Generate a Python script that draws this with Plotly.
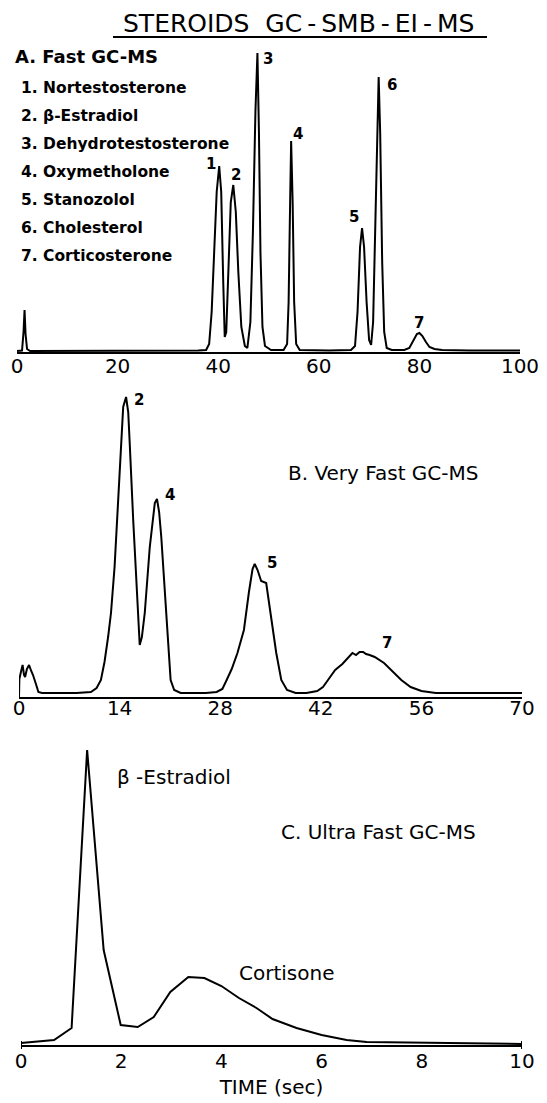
import plotly.graph_objects as go

# ---------------- Panel A : Fast GC-MS (time axis 0-100) ----------------
a_time = [0, 1.0, 1.3, 1.5, 1.7, 2.0, 2.6, 10, 20, 30, 36.0,
          37.6, 38.2, 38.7, 39.2, 39.7, 40.2, 40.6, 41.0, 41.3,
          41.6, 42.0, 42.5, 43.0, 43.5, 44.0, 44.6, 45.3, 45.8,
          46.4, 46.9, 47.4, 47.8, 48.1, 48.4, 48.8, 49.3, 50.5,
          53.0, 53.7, 54.0, 54.3, 54.5, 54.8, 55.1, 55.5, 56.2,
          62.0, 66.4, 67.2, 67.7, 68.2, 68.6, 69.0, 69.5, 70.0,
          70.4, 70.8, 71.3, 71.7, 71.9, 72.2, 72.6, 73.0, 73.5, 74.5,
          77.0, 78.0, 78.8, 79.5, 80.0, 80.6, 81.3, 82.0, 83.0, 84.5, 90, 100]
a_signal = [1, 1.5, 20, 42, 18, 3, 1, 1, 1.5, 1.5, 1.5,
            2, 8, 40, 100, 160, 186, 160, 70, 15,
            20, 80, 150, 167, 140, 80, 25, 6, 4,
            30, 120, 240, 299, 220, 100, 25, 6, 2,
            2, 8, 50, 150, 211, 150, 50, 8, 2,
            1.5, 2, 6, 40, 105, 124, 105, 50, 12,
            7, 30, 150, 260, 275, 220, 90, 20, 4, 2,
            2, 4, 12, 18, 19, 16, 10, 5, 3, 2, 1.5, 1.5]
a_ticks = [0, 20, 40, 60, 80, 100]
a_compounds = ["1. Nortestosterone", "2. β-Estradiol", "3. Dehydrotestosterone",
               "4. Oxymetholone", "5. Stanozolol", "6. Cholesterol", "7. Corticosterone"]
a_peak_ids = ["1", "2", "3", "4", "5", "6", "7"]
a_peak_time = [40.2, 43.0, 47.8, 54.5, 68.6, 71.9, 80.0]
a_peak_height = [186, 167, 299, 211, 124, 275, 19]

# ---------------- Panel B : Very Fast GC-MS (time axis 0-70) ----------------
b_time = [0, 0.05, 0.3, 0.5, 0.7, 0.85, 1.1, 1.4, 1.7, 1.95, 2.4, 2.7, 3.2,
          5, 8, 10, 10.8, 11.4, 11.9, 12.4, 12.8, 13.3, 13.7, 13.9, 14.2,
          14.5, 14.9, 15.2, 15.4, 15.6, 15.9, 16.2, 16.5, 16.8,
          17.1, 17.5, 18.2, 18.9, 19.2, 19.5, 19.8, 20.2, 20.7, 21.1, 21.6, 22.5,
          24, 26, 27.5, 28.3, 28.9, 29.6, 30.4, 31.3, 32.0, 32.5, 32.8, 33.2,
          33.7, 34.4, 35.0, 35.8, 36.5, 37.3, 38.5, 40.0,
          41.5, 42.3, 43.0, 44.0, 45.0, 45.9, 46.4, 46.9, 47.4, 47.9, 48.3,
          48.8, 49.5, 50.8, 52.2, 53.2, 54.5, 56.0, 58.0, 60.0, 65.0, 70.0]
b_signal = [0, 18, 26, 32, 22, 20, 28, 32, 26, 22, 12, 5, 4,
            4, 4, 5, 9, 17, 35, 60, 84, 130, 185, 217, 262,
            290, 300, 285, 255, 217, 176, 135, 93, 52,
            60, 84, 150, 194, 198, 185, 160, 117, 67, 17, 7, 4,
            4, 4, 5, 8, 17, 28, 44, 67, 105, 128, 133, 127,
            116, 114, 84, 44, 17, 7, 4, 4,
            6, 10, 17, 27, 33, 40, 44, 42, 45, 45, 43,
            42, 40, 34, 24, 17, 10, 6, 4, 4, 4, 4]
b_ticks = [0, 14, 28, 42, 56, 70]
b_peak_ids = ["2", "4", "5", "7"]
b_peak_time = [14.9, 19.2, 32.8, 47.9]
b_peak_height = [300, 198, 133, 45]

# ---------------- Panel C : Ultra Fast GC-MS (time axis 0-10 s) ----------------
c_time = [0, 0.28, 0.66, 1.01, 1.32, 1.65, 1.99, 2.33, 2.65, 2.98, 3.34, 3.66,
          4.0, 4.35, 4.7, 5.02, 5.5, 6.0, 6.5, 6.9, 7.94, 9.0, 10.0]
c_signal = [2, 3, 5, 17, 295, 95, 20, 18, 28, 53, 68, 67,
            59, 47, 37, 26, 17, 10, 5, 3, 2.3, 1.7, 1]
c_ticks = [0, 2, 4, 6, 8, 10]
c_peak_names = ["β -Estradiol", "Cortisone"]
c_peak_time = [1.32, 3.5]
c_peak_height = [295, 68]

# ---------------- styling / layout helpers ----------------
PAGE_W, PAGE_H = 547, 1103
BODY_MARGIN = 8                      # default page margin before the plot div
W, H = PAGE_W - BODY_MARGIN, PAGE_H - BODY_MARGIN
FONT = "DejaVu Sans"
INK = "black"


def px_x(x):
    return (x - BODY_MARGIN) / W


def px_y(y):
    return 1 - (y - BODY_MARGIN) / H


fig = go.Figure()
line_style = dict(color=INK, width=2)
fig.add_trace(go.Scatter(x=a_time, y=a_signal, mode="lines", line=line_style,
                         xaxis="x", yaxis="y", hoverinfo="skip"))
fig.add_trace(go.Scatter(x=b_time, y=b_signal, mode="lines", line=line_style,
                         xaxis="x2", yaxis="y2", hoverinfo="skip"))
fig.add_trace(go.Scatter(x=c_time, y=c_signal, mode="lines", line=line_style,
                         xaxis="x3", yaxis="y3", hoverinfo="skip"))

xcommon = dict(showline=True, linecolor=INK, linewidth=2, ticks="", showgrid=False,
               zeroline=False, tickfont=dict(family=FONT, size=20, color=INK),
               fixedrange=True, automargin=False, ticklabeloverflow="allow")
ycommon = dict(visible=False, range=[0, 320], fixedrange=True, automargin=False)


def paper_text(text, x, y, size, anchor="left", bold=False):
    return dict(text=("<b>" + text + "</b>") if bold else text,
                x=px_x(x), y=px_y(y), xanchor=anchor, yanchor="middle",
                xref="paper", yref="paper", showarrow=False,
                font=dict(family=FONT, size=size, color=INK))


annotations = []
thin = "\u2009"
annotations.append(paper_text("STEROIDS  GC" + thin + "-" + thin + "SMB" + thin + "-" + thin
                              + "EI" + thin + "-" + thin + "MS",
                              298, 24, 25, anchor="center"))
annotations.append(paper_text("A. Fast GC-MS", 13, 57, 18, bold=True))
list_y = [88, 116, 144, 172, 200, 228, 256]
for name, yy in zip(a_compounds, list_y):
    annotations.append(paper_text(name, 19, yy, 15.5, bold=True))

a_shift = [(-8, 2), (3, 10), (11, -6), (7, 7), (-8, 11), (13, -8), (0, 10)]
for pid, t, h, (dx, dy) in zip(a_peak_ids, a_peak_time, a_peak_height, a_shift):
    annotations.append(dict(text="<b>" + pid + "</b>", x=t, y=h, xref="x", yref="y",
                            xshift=dx, yshift=dy, showarrow=False, yanchor="middle",
                            font=dict(family=FONT, size=15, color=INK)))

annotations.append(paper_text("B. Very Fast GC-MS", 286, 473, 20))
b_shift = [(13, -3), (13, 4), (17, 1), (24, 9)]
for pid, t, h, (dx, dy) in zip(b_peak_ids, b_peak_time, b_peak_height, b_shift):
    annotations.append(dict(text="<b>" + pid + "</b>", x=t, y=h, xref="x2", yref="y2",
                            xshift=dx, yshift=dy, showarrow=False, yanchor="middle",
                            font=dict(family=FONT, size=15, color=INK)))

annotations.append(paper_text("C. Ultra Fast GC-MS", 279, 832, 20))
c_shift = [(28, -27, "left"), (90, 4, "center")]
for name, t, h, (dx, dy, anc) in zip(c_peak_names, c_peak_time, c_peak_height, c_shift):
    annotations.append(dict(text=name, x=t, y=h, xref="x3", yref="y3",
                            xshift=dx, yshift=dy, xanchor=anc, yanchor="middle",
                            showarrow=False,
                            font=dict(family=FONT, size=20, color=INK)))

shapes = [dict(type="line", xref="paper", yref="paper", x0=px_x(113), x1=px_x(487),
               y0=px_y(37), y1=px_y(37), line=dict(color=INK, width=2))]
# small end caps on the time axis of panel C
for t in (c_ticks[0], c_ticks[-1]):
    shapes.append(dict(type="line", xref="x3", yref="paper", x0=t, x1=t,
                       y0=px_y(1049), y1=px_y(1041), line=dict(color=INK, width=2)))

fig.update_layout(
    width=W, height=H,
    margin=dict(l=0, r=0, t=0, b=0, pad=0, autoexpand=False),
    paper_bgcolor="white", plot_bgcolor="white",
    showlegend=False,
    xaxis=dict(xcommon, domain=[px_x(17), px_x(520)], range=[0, 100],
               tickvals=a_ticks, anchor="y", ticklabelstandoff=-5),
    yaxis=dict(ycommon, domain=[px_y(352), px_y(32)], anchor="x"),
    xaxis2=dict(xcommon, domain=[px_x(19), px_x(522)], range=[0, 70],
                tickvals=b_ticks, anchor="y2", ticklabelstandoff=-8),
    yaxis2=dict(ycommon, domain=[px_y(697), px_y(377)], anchor="x2"),
    xaxis3=dict(xcommon, domain=[px_x(21), px_x(522)], range=[0, 10],
                tickvals=c_ticks, anchor="y3", ticklabelstandoff=-3,
                title=dict(text="TIME (sec)", standoff=8,
                           font=dict(family=FONT, size=20, color=INK))),
    yaxis3=dict(ycommon, domain=[px_y(1045), px_y(725)], anchor="x3"),
    annotations=annotations,
    shapes=shapes,
)

fig.write_html("out.html")
